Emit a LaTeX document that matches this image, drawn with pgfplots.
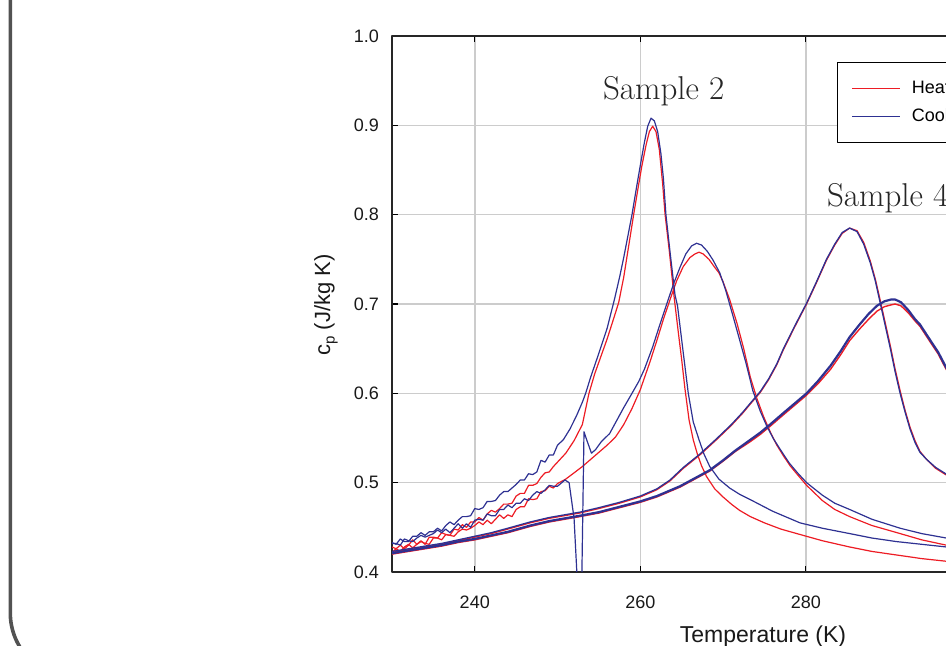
\documentclass[border=0pt]{standalone}
\usepackage{fontspec}
\setsansfont{Liberation Sans}
\usepackage{pgfplots}
\pgfplotsset{compat=1.18}
\definecolor{hred}{RGB}{237,28,36}
\definecolor{cblue}{RGB}{46,49,146}
\begin{document}
\begin{tikzpicture}
\useasboundingbox (0,0) rectangle (473pt,323pt);
\clip (0,0) rectangle (473pt,323pt);
\draw[line width=1.8pt, color=black!68, rounded corners=32.5pt] (5.15pt,420pt) rectangle (700pt,-16pt);
\begin{axis}[
  at={(196pt,37pt)}, anchor=south west, scale only axis,
  width=372.4pt, height=268pt,
  xmin=230, xmax=320, ymin=0.4, ymax=1.0,
  xtick={240,260,280,300,320},
  ytick={0.4,0.5,0.6,0.7,0.8,0.9,1.0},
  /pgf/number format/assume math mode=true,
  tick label style={font=\sffamily\fontsize{9}{10}\selectfont, text=black!90},
  yticklabel style={/pgf/number format/fixed, /pgf/number format/fixed zerofill, /pgf/number format/precision=1, xshift=-3pt},
  xticklabel style={yshift=-8.5pt},
  tick align=inside, tick pos=both,
  major tick length=3pt,
  every tick/.style={black, line width=0.7pt},
  axis line style={black!85, line width=0.7pt},
  grid=major,
  major grid style={color=black!20, line width=0.75pt},
  legend style={at={(axis cs:283.78,0.9711)}, anchor=north west, draw=black, line width=0.6pt, fill=white,
    font=\sffamily\fontsize{9}{10.8}\selectfont, inner xsep=7pt, inner ysep=7pt, row sep=2pt,
    nodes={inner sep=2pt},
    /tikz/every odd column/.append style={column sep=3.5pt}},
  legend cell align=left,
  legend image code/.code={\draw[#1, line width=0.6pt] (0pt,0pt) -- (24pt,0pt);},
  line join=round,
]
\addlegendimage{hred}
\addlegendentry{Heating}
\addlegendimage{cblue}
\addlegendentry{Cooling}

% Sample 2 heating
\addplot[hred, line width=0.6pt, forget plot] coordinates {
(230,0.428)(230.5,0.426)(231,0.430)(231.5,0.426)(232,0.430)(232.5,0.436)(233,0.431)(233.5,0.435)(234,0.431)(234.5,0.439)(235,0.439)(235.5,0.438)(236,0.444)(236.5,0.442)(237,0.441)(237.5,0.448)(238,0.447)(238.5,0.453)(239,0.450)(239.5,0.456)(240,0.456)(240.5,0.461)(241,0.458)(241.5,0.465)(242,0.469)(242.5,0.467)(243,0.471)(243.5,0.476)(244,0.476)(244.5,0.477)(245,0.485)(245.5,0.488)(246,0.488)(246.5,0.497)(247,0.497)(247.5,0.499)(248,0.506)(248.5,0.511)(249,0.512)(249.5,0.518)(250,0.523)(251,0.533)(252,0.547)(253,0.565)(253.8,0.600)(254.5,0.622)(255,0.635)(256,0.661)(257,0.690)(257.4,0.702)(258,0.730)(258.6,0.765)(259.2,0.800)(259.7,0.828)(260.2,0.855)(260.7,0.878)(261.1,0.893)(261.5,0.899)(261.9,0.893)(262.3,0.873)(262.7,0.835)(263.0,0.800)(263.5,0.760)(264.1,0.707)(264.6,0.668)(265.0,0.638)(265.4,0.605)(265.9,0.570)(266.4,0.548)(266.9,0.532)(267.4,0.519)(268,0.507)(269,0.493)(270,0.484)(271,0.476)(272,0.469)(273.3,0.462)(275,0.455)(277,0.448)(279.3,0.442)(282,0.435)(285.3,0.428)(288,0.423)(291,0.419)(294,0.415)(297,0.412)(300,0.409)};
% Sample 3 heating
\addplot[hred, line width=0.6pt, forget plot] coordinates {
(230,0.422)(230.5,0.426)(231,0.423)(231.5,0.428)(232,0.431)(232.5,0.427)(233,0.431)(233.5,0.434)(234,0.432)(234.5,0.431)(235,0.438)(235.5,0.438)(236,0.436)(236.5,0.442)(237,0.441)(237.5,0.440)(238,0.445)(238.5,0.448)(239,0.447)(239.5,0.449)(240,0.452)(240.5,0.456)(241,0.453)(241.5,0.458)(242,0.454)(242.5,0.459)(243,0.464)(243.5,0.460)(244,0.464)(244.5,0.462)(245,0.470)(245.5,0.473)(246,0.473)(246.5,0.482)(247,0.481)(247.5,0.482)(248,0.490)(248.5,0.491)(249,0.496)(249.5,0.494)(250,0.499)(251,0.504)(252,0.511)(253,0.518)(254,0.526)(255,0.534)(256,0.542)(257,0.551)(258,0.565)(259,0.583)(260,0.604)(261.2,0.636)(262,0.659)(262.8,0.683)(263.6,0.705)(264.4,0.726)(265.2,0.742)(266,0.752)(266.6,0.756)(267.1,0.758)(267.6,0.756)(268.3,0.750)(269,0.741)(269.5,0.735)(270,0.725)(270.8,0.705)(271.7,0.678)(272.5,0.650)(273.3,0.618)(274.1,0.594)(274.9,0.574)(275.7,0.557)(276.5,0.542)(277.3,0.530)(278.1,0.519)(278.9,0.510)(280.1,0.497)(282,0.480)(283.5,0.470)(285.3,0.462)(288,0.452)(291.4,0.443)(294,0.436)(297,0.430)(300,0.425)};
% Sample 4 heating
\addplot[hred, line width=0.6pt, forget plot] coordinates {
(230,0.422)(232,0.425)(234,0.428)(236,0.431)(238,0.435)(240,0.439)(242,0.443)(244,0.448)(246.7,0.455)(249,0.460)(252.7,0.466)(255,0.471)(257.5,0.477)(260,0.484)(262,0.492)(263.6,0.502)(265.2,0.516)(267.2,0.531)(269.2,0.548)(271,0.564)(272.4,0.578)(273.3,0.588)(274.5,0.601)(275.5,0.615)(276.5,0.632)(277.3,0.649)(278.7,0.675)(280.1,0.700)(281.3,0.724)(282.5,0.749)(283.5,0.766)(284.4,0.779)(285.3,0.785)(286.2,0.782)(287,0.769)(287.8,0.748)(288.4,0.728)(289,0.704)(289.6,0.679)(290.2,0.654)(290.8,0.627)(291.4,0.603)(292,0.581)(292.6,0.562)(293.2,0.547)(293.8,0.535)(294.6,0.526)(295.7,0.516)(296.9,0.509)(298,0.504)(300,0.496)(305,0.479)};
% Sample 5 heating
\addplot[hred, line width=0.7pt, forget plot] coordinates {
(230,0.420)(232,0.423)(234,0.426)(236,0.429)(238,0.433)(240,0.436)(242,0.440)(244,0.444)(246.7,0.451)(249,0.456)(252.7,0.462)(255,0.466)(257.5,0.472)(260,0.478)(262,0.484)(264.8,0.495)(267.2,0.507)(268.4,0.513)(270,0.524)(271.5,0.535)(273.3,0.546)(274.5,0.554)(275.8,0.564)(277.3,0.576)(278.7,0.587)(280.1,0.598)(281.5,0.611)(283,0.627)(284.2,0.643)(285.3,0.659)(286.5,0.672)(287.6,0.683)(288.6,0.692)(289.5,0.697)(290.3,0.699)(290.8,0.700)(291.5,0.698)(292.4,0.690)(293.2,0.681)(293.8,0.675)(295,0.658)(296,0.644)(296.9,0.628)(298,0.610)(300,0.578)(302,0.548)};

% Sample 2 cooling
\addplot[cblue, line width=0.6pt, forget plot] coordinates {
(230,0.433)(230.5,0.431)(231,0.437)(231.5,0.434)(232,0.434)(232.5,0.440)(233,0.440)(233.5,0.444)(234,0.441)(234.5,0.445)(235,0.445)(235.5,0.449)(236,0.446)(236.5,0.452)(237,0.456)(237.5,0.453)(238,0.458)(238.5,0.462)(239,0.462)(239.5,0.463)(240,0.471)(240.5,0.470)(241,0.472)(241.5,0.479)(242,0.479)(242.5,0.480)(243,0.486)(243.5,0.490)(244,0.490)(244.5,0.494)(245,0.498)(245.5,0.503)(246,0.503)(246.5,0.510)(247,0.509)(247.5,0.512)(248,0.525)(248.5,0.523)(249,0.531)(249.5,0.531)(250,0.542)(250.7,0.548)(251.5,0.560)(252.3,0.575)(253,0.590)(253.4,0.600)(254,0.618)(255,0.645)(256,0.673)(256.9,0.706)(257.5,0.730)(258,0.752)(258.5,0.776)(259,0.800)(259.5,0.828)(260,0.855)(260.5,0.881)(260.9,0.899)(261.3,0.908)(261.7,0.905)(262.1,0.893)(262.5,0.868)(262.8,0.840)(263.1,0.800)(263.6,0.758)(264.2,0.710)(264.5,0.698)(265.2,0.645)(265.8,0.600)(266.4,0.568)(267.1,0.548)(267.7,0.532)(268.4,0.518)(269.5,0.504)(270.8,0.494)(272,0.487)(273.3,0.481)(276,0.468)(279.3,0.455)(282,0.449)(285.3,0.443)(288,0.438)(291,0.434)(294,0.431)(297,0.428)(300,0.426)};
% Sample 3 cooling (with glitch)
\addplot[cblue, line width=0.6pt, forget plot] coordinates {
(230,0.432)(230.5,0.432)(231,0.430)(231.5,0.437)(232,0.435)(232.5,0.434)(233,0.438)(233.5,0.441)(234,0.439)(234.5,0.441)(235,0.443)(235.5,0.447)(236,0.444)(236.5,0.448)(237,0.444)(237.5,0.449)(238,0.454)(238.5,0.449)(239,0.454)(239.5,0.450)(240,0.458)(240.5,0.459)(241,0.458)(241.5,0.465)(242,0.463)(242.5,0.463)(243,0.470)(243.5,0.470)(244,0.475)(244.5,0.472)(245,0.477)(245.5,0.477)(246,0.482)(246.5,0.480)(247,0.486)(247.5,0.490)(248,0.488)(248.5,0.492)(249,0.497)(249.5,0.496)(250,0.496)(250.9,0.503)(251.4,0.500)(252,0.460)(252.5,0.370)(252.9,0.370)(253.2,0.557)(253.6,0.546)(254.1,0.533)(254.6,0.537)(255.3,0.546)(256.3,0.555)(257,0.567)(258,0.584)(259,0.600)(259.8,0.613)(260.5,0.627)(261.5,0.652)(262.3,0.675)(263.2,0.700)(264,0.722)(264.8,0.741)(265.5,0.756)(266.2,0.765)(266.8,0.768)(267.4,0.766)(268.1,0.759)(268.8,0.749)(269.6,0.735)(270.3,0.716)(271.1,0.690)(272,0.660)(272.8,0.633)(273.6,0.603)(274.5,0.580)(275.3,0.563)(276.1,0.549)(277,0.536)(278,0.522)(279,0.511)(280.1,0.500)(282,0.486)(283.5,0.477)(285.3,0.470)(288,0.459)(291.4,0.449)(294,0.443)(297,0.438)(300,0.434)};
% Sample 4 cooling
\addplot[cblue, line width=0.65pt, forget plot] coordinates {
(230,0.423)(232,0.426)(234,0.429)(236,0.432)(238,0.436)(240,0.440)(242,0.444)(244,0.449)(246.7,0.456)(249,0.461)(252.7,0.467)(255,0.472)(257.5,0.478)(260,0.485)(262,0.493)(263.6,0.503)(265.2,0.517)(267.2,0.532)(269.2,0.549)(271,0.565)(272.4,0.579)(273.3,0.589)(274.5,0.602)(275.5,0.616)(276.5,0.633)(277.3,0.650)(278.7,0.676)(280.1,0.701)(281.3,0.725)(282.5,0.750)(283.5,0.767)(284.4,0.780)(285.3,0.785)(286.2,0.781)(287,0.767)(287.8,0.746)(288.4,0.726)(289,0.701)(289.6,0.676)(290.2,0.651)(290.8,0.624)(291.4,0.600)(292,0.579)(292.6,0.560)(293.2,0.545)(293.8,0.534)(294.6,0.526)(295.7,0.517)(296.9,0.510)(298,0.505)(300,0.497)(305,0.480)};
% Sample 5 cooling
\addplot[cblue, line width=1.1pt, forget plot] coordinates {
(230,0.421)(232,0.424)(234,0.427)(236,0.430)(238,0.434)(240,0.437)(242,0.441)(244,0.445)(246.7,0.452)(249,0.457)(252.7,0.463)(255,0.467)(257.5,0.473)(260,0.479)(262,0.485)(264.8,0.496)(267.2,0.508)(268.4,0.514)(270,0.525)(271.5,0.536)(273.3,0.548)(274.5,0.556)(275.8,0.566)(277.3,0.578)(278.7,0.589)(280.1,0.600)(281.5,0.614)(283,0.631)(284.2,0.647)(285.3,0.663)(286.5,0.677)(287.6,0.689)(288.6,0.698)(289.5,0.703)(290.3,0.705)(290.8,0.705)(291.5,0.702)(292.4,0.693)(293.2,0.683)(293.8,0.677)(295,0.660)(296,0.646)(296.9,0.630)(298,0.612)(300,0.580)(302,0.550)};

\node[anchor=base west, inner sep=0pt, font=\rmfamily\fontsize{16.5}{18}\selectfont, text=black!85] at (axis cs:255.46,0.9293) {Sample 2};
\node[anchor=base west, inner sep=0pt, font=\rmfamily\fontsize{16.5}{18}\selectfont, text=black!85] at (axis cs:282.53,0.8087) {Sample 4};
\end{axis}
\node[anchor=base, font=\sffamily\fontsize{11.5}{13}\selectfont, text=black!90] at (381.5pt,1.5pt) {Temperature (K)};
\node[anchor=base, rotate=90, font=\sffamily\fontsize{11}{13}\selectfont, text=black!90] at (165pt,170.5pt) {c\raisebox{-0.4ex}{\fontsize{7.5}{8}\selectfont p} (J/kg K)};
\end{tikzpicture}
\end{document}
